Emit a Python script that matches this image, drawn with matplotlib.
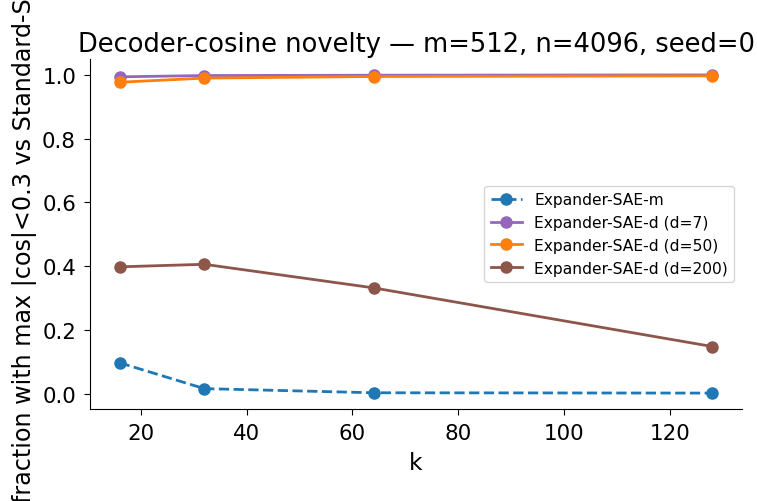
import matplotlib
matplotlib.use("Agg")
import matplotlib.pyplot as plt

k_values = [16, 32, 64, 128]
frac_m = [0.097, 0.016, 0.003, 0.002]
frac_d7 = [0.994, 0.998, 0.999, 1.000]
frac_d50 = [0.977, 0.990, 0.995, 0.997]
frac_d200 = [0.398, 0.406, 0.332, 0.148]

series = [
  ("Expander-SAE-m", frac_m, "#1f77b4", "--"),
  ("Expander-SAE-d (d=7)", frac_d7, "#9467bd", "-"),
  ("Expander-SAE-d (d=50)", frac_d50, "#ff7f0e", "-"),
  ("Expander-SAE-d (d=200)", frac_d200, "#8c564b", "-"),
]

plt.rcParams["font.size"] = 15.4

fig = plt.figure(figsize=(7.57, 5.02), dpi=100)
ax = fig.add_axes([90 / 757, 92 / 502, 652 / 757, 350 / 502])

for label, vals, color, ls in series:
  ax.plot(k_values, vals, ls, color=color, marker="o", markersize=8, linewidth=2, label=label)

ax.set_xlabel("k", fontsize=16.8, labelpad=6)
# the reference crops this label at the top and left edges
ax.set_ylabel("fraction with max |cos|<0.3 vs Standard-SAE", fontsize=17.2)
ax.set_title("Decoder-cosine novelty — m=512, n=4096, seed=0", fontsize=18.5)
ax.tick_params(length=4, pad=6)
ax.spines["top"].set_visible(False)
ax.spines["right"].set_visible(False)
ax.legend(loc="center right", fontsize=11.2)

fig.savefig("out.png", dpi=100)
